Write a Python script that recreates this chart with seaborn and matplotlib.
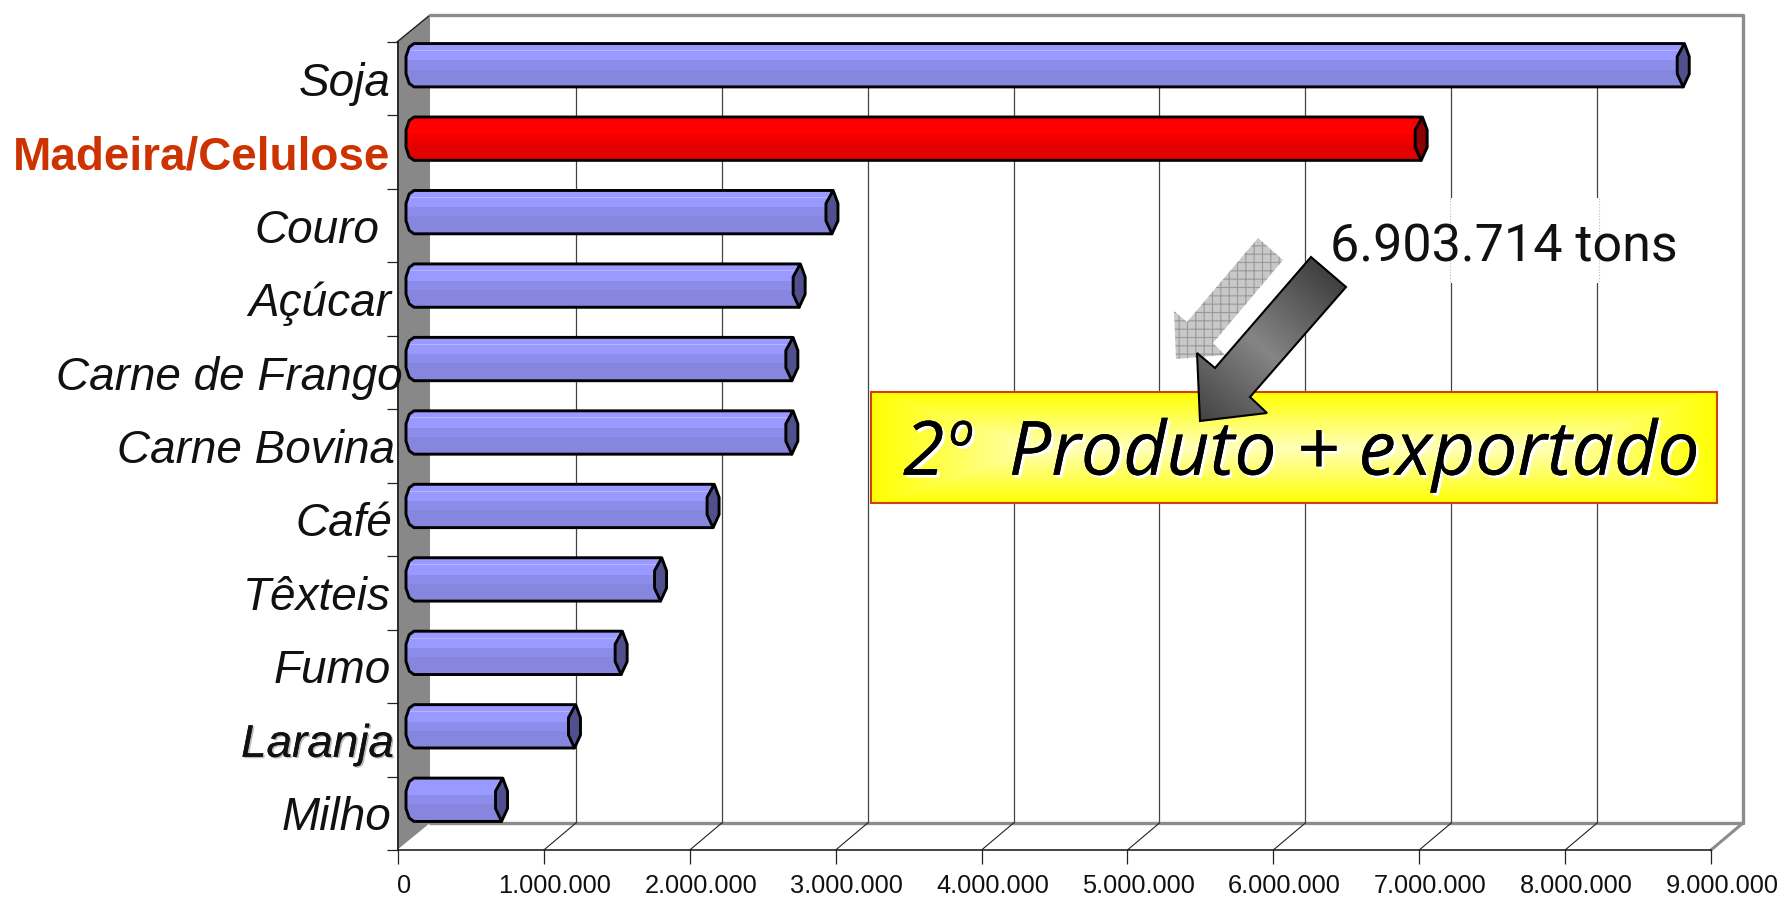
import numpy as np
import pandas as pd
import seaborn as sns
import matplotlib.pyplot as plt
from matplotlib.patches import Polygon, Rectangle
from matplotlib.transforms import ScaledTranslation
import matplotlib.patheffects as pe

produtos = ["Soja", "Madeira/Celulose", "Couro", "Açúcar", "Carne de Frango", "Carne Bovina",
            "Café", "Têxteis", "Fumo", "Laranja", "Milho"]
toneladas = [8700000, 6903714, 2865000, 2640000, 2590000, 2590000, 2050000, 1690000, 1420000, 1100000, 600000]
x_ticks = [0, 1000000, 2000000, 3000000, 4000000, 5000000, 6000000, 7000000, 8000000, 9000000]
x_labels = ["0", "1.000.000", "2.000.000", "3.000.000", "4.000.000", "5.000.000",
            "6.000.000", "7.000.000", "8.000.000", "9.000.000"]
label_shift = [0, -1, -12, 0, 12, 4, 1, 0, 0, 3, 0]

W, H = 1782, 898
L, R, T, B = 398, 1711, 42, 850
DX, DY = 32, 27  # depth of the fake 3d box, px
PX_PER_T = (R - L) / 9000000

blue_bands = ["#9999ff", "#8c8cea", "#8686de"]
red_bands = ["#ff0000", "#f20000", "#e20000"]
band_start = [0.0, 0.39, 0.6, 1.0]

sns.set_theme(style="white")
plt.rcParams["font.family"] = ["Liberation Sans", "DejaVu Sans"]
plt.rcParams["hatch.linewidth"] = 0.8

fig = plt.figure(figsize=(W / 100, H / 100), dpi=100)
fig.patch.set_facecolor("white")

# pixel axes behind and in front of the chart
bg = fig.add_axes([0, 0, 1, 1], zorder=0)
bg.set_xlim(0, W)
bg.set_ylim(H, 0)
bg.axis("off")
top = fig.add_axes([0, 0, 1, 1], zorder=2)
top.set_xlim(0, W)
top.set_ylim(H, 0)
top.axis("off")
top.patch.set_alpha(0)

ax = fig.add_axes([L / W, 1 - B / H, (R - L) / W, (B - T) / H], zorder=1)
ax.patch.set_alpha(0)

df = pd.DataFrame({"produto": produtos, "toneladas": toneladas})
colors = ["#ff0000" if p == "Madeira/Celulose" else "#9999ff" for p in produtos]
sns.barplot(data=df, x="toneladas", y="produto", hue="produto", palette=colors, legend=False,
            width=0.59, linewidth=0, saturation=1, ax=ax)
ax.set_xlim(0, 9000000)
ax.set_ylim(10.5, -0.5)
ax.set_xlabel("")
ax.set_ylabel("")

mid = ax.transData + ScaledTranslation(DX / 2 / 100, DY / 2 / 100, fig.dpi_scale_trans)
back = ax.transData + ScaledTranslation(DX / 100, DY / 100, fig.dpi_scale_trans)

# back wall and floor
bg.add_patch(Polygon([(L - 1, T), (L + DX, T - DY), (L + DX, B - DY), (L - 1, B)], fc="#888888", ec="none"))
bg.plot([L - 1, L + DX], [T, T - DY], color="#222222", lw=1)
bg.plot([L + DX, R + DX, R + DX], [T - DY, T - DY, B - DY], color="#8c8c8c", lw=2.4)
bg.plot([L + DX, R + DX], [B - DY, B - DY], color="#8c8c8c", lw=2.4)
bg.plot([R, R + DX], [B, B - DY], color="#8c8c8c", lw=2.2)
for t in x_ticks[1:-1]:
    xp = L + t * PX_PER_T
    bg.plot([xp, xp + DX], [B, B - DY], color="#222222", lw=0.8)

ax.vlines(x_ticks[1:-1], -0.5, 10.5, color="#444444", lw=0.9, transform=back, zorder=1)

h = 0.59
bulge = 8 / PX_PER_T
cap_w = 6 / PX_PER_T
for i, (p, v) in enumerate(zip(ax.patches, toneladas)):
    p.set_transform(mid)
    p.set_zorder(2)
    p.set_clip_on(False)
    # rough polygon ends like the old office chart
    verts = [(0, i - h / 2), (-0.6 * bulge, i - 0.42 * h), (-bulge, i - 0.2 * h), (-bulge, i + 0.2 * h),
             (-0.6 * bulge, i + 0.42 * h), (0, i + h / 2), (v, i + h / 2), (v, i - h / 2)]
    outline = Polygon(verts, closed=True, fc="none", ec="black", lw=2.1, transform=mid, zorder=4,
                      clip_on=False, joinstyle="round")
    ax.add_patch(outline)
    bands = red_bands if i == 1 else blue_bands
    for j, c in enumerate(bands):
        y0 = i - h / 2 + band_start[j] * h
        y1 = i - h / 2 + band_start[j + 1] * h
        r = Rectangle((-bulge, y0), v + bulge, y1 - y0, fc=c, ec="none", transform=mid, zorder=3)
        ax.add_patch(r)
        r.set_clip_path(outline)
    hl = Rectangle((-bulge, i - h / 2 + 0.15 * h), v + bulge, 0.012, fc="#b4b4ff" if i != 1 else "#ff3030",
                   ec="none", transform=mid, zorder=3)
    ax.add_patch(hl)
    hl.set_clip_path(outline)
    cap_verts = [(v + 0.2 * cap_w, i - h / 2), (v + cap_w, i - 0.2 * h), (v + cap_w, i + 0.2 * h),
                 (v, i + h / 2), (v - cap_w, i + 0.2 * h), (v - cap_w, i - 0.2 * h)]
    cap = Polygon(cap_verts, closed=True, fc="#8b0000" if i == 1 else "#50508c", ec="black", lw=2.1,
                  transform=mid, zorder=5, clip_on=False, joinstyle="round")
    ax.add_patch(cap)

# axes, ticks, labels
for s in ["top", "right"]:
    ax.spines[s].set_visible(False)
for s in ["left", "bottom"]:
    ax.spines[s].set_visible(True)
    ax.spines[s].set_color("#111111")
    ax.spines[s].set_linewidth(1.1)
ax.set_xticks(x_ticks)
ax.set_xticklabels(x_labels, fontsize=18.3, color="#111111")
ax.tick_params(axis="x", length=10, width=0.9, color="#222222", pad=7.2, bottom=True)
ax.set_yticks(np.arange(-0.5, 11, 1))
ax.set_yticklabels([])
ax.set_yticks(np.arange(11), minor=True)
ax.set_yticklabels(produtos, minor=True, fontsize=33, style="italic", color="#111111")
ax.tick_params(axis="y", which="major", length=8, width=0.9, color="#222222", left=True)
ax.tick_params(axis="y", which="minor", length=0, pad=5, left=False)
for lab in ax.get_xticklabels():
    shift = 0.06 if lab.get_text() == "0" else 0.11
    lab.set_transform(lab.get_transform() + ScaledTranslation(shift, 0, fig.dpi_scale_trans))
for lab, dx, name in zip(ax.get_yticklabels(minor=True), label_shift, produtos):
    lab.set_transform(lab.get_transform() + ScaledTranslation(dx / 100, 0, fig.dpi_scale_trans))
    if name == "Madeira/Celulose":
        lab.set_color("#cc3300")
        lab.set_fontweight("bold")
        lab.set_fontstyle("normal")
        lab.set_fontsize(33)
    if name == "Laranja":
        lab.set_path_effects([pe.withSimplePatchShadow(offset=(1.2, -1), shadow_rgbFace="#aaaaaa", alpha=0.8), pe.Normal()])

# white box behind the callout number, gridlines stay faintly dotted under it
top.add_patch(Rectangle((1322, 198), 368, 85, fc="white", ec="none", zorder=1))
top.vlines([1450, 1599], 198, 283, color="#bbbbbb", lw=0.8, ls=":", zorder=1.5)
top.text(1330, 261, "6.903.714 tons", fontsize=37.5, family="Roboto", color="#111111",
         va="baseline", ha="left", zorder=2)

# yellow note
bx0, bx1, by0, by1 = 871, 1717, 392, 503
gx, gy = np.meshgrid(np.arange(bx1 - bx0), np.arange(by1 - by0))
dist_x = np.minimum(gx, bx1 - bx0 - gx) / 170
dist_y = np.minimum(gy, by1 - by0 - gy) / 55
glow = np.clip(np.minimum(dist_x, dist_y), 0, 1)
rgb = np.dstack([np.ones_like(glow), np.ones_like(glow), 0.72 * glow])
top.imshow(rgb, extent=[bx0, bx1, by1, by0], aspect="auto", zorder=3)
top.add_patch(Rectangle((bx0, by0), bx1 - bx0, by1 - by0, fc="none", ec="#d04010", lw=1.5, zorder=4))
top.text(903, 455, "2º  Produto + exportado", fontsize=54, family="Open Sans", style="italic", color="black",
         va="center", ha="left", zorder=5,
         path_effects=[pe.withSimplePatchShadow(offset=(2, -2), shadow_rgbFace="white", alpha=1), pe.Normal()])

# arrows
light = Polygon([(1258, 238), (1283, 260), (1213, 343), (1225, 355), (1176, 359), (1174, 311), (1187, 322)],
                fc="#c8c8c8", ec="#999999", lw=0, hatch="++", zorder=6)
top.add_patch(light)
dark_pts = [(1311, 257), (1346, 287), (1250, 397), (1267, 413), (1200, 421), (1197, 353), (1215, 368)]
dark = Polygon(dark_pts, fc="none", ec="black", lw=1.5, zorder=8)
top.add_patch(dark)
ax0, ax1, ay0, ay1 = 1190, 1350, 250, 425
ux, uy = np.meshgrid(np.linspace(ax0, ax1, 160), np.linspace(ay0, ay1, 175))
along = ((ux - 1328) * -0.66 + (uy - 272) * 0.75) / 200
shade = 0.25 + 0.27 * np.clip(1 - np.abs(along - 0.5) * 2, 0, 1)
im = top.imshow(shade, extent=[ax0, ax1, ay1, ay0], aspect="auto", cmap="gray", vmin=0, vmax=1, zorder=7)
im.set_clip_path(dark)
top.set_xlim(0, W)
top.set_ylim(H, 0)

fig.savefig("out.png", dpi=100)
